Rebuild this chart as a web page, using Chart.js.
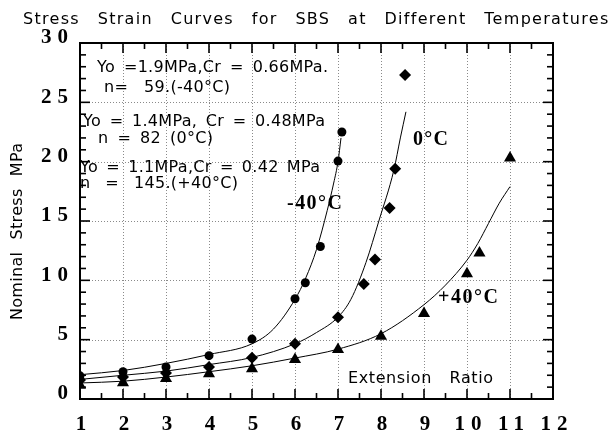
<!DOCTYPE html>
<html><head><meta charset="utf-8">
<script src="https://cdn.jsdelivr.net/npm/chart.js@4/dist/chart.umd.min.js"></script>
<style>html,body{margin:0;padding:0;background:#fff}#wrap{width:610px;height:436px;position:relative}</style>
</head><body><div id="wrap"><canvas id="c" width="610" height="436"></canvas></div>
<script>
// ---- texts ----
const titleText = 'Stress Strain Curves for SBS at Different Temperatures';
const xAxisTitle = 'Extension Ratio';
const yAxisTitle = 'Nominal Stress MPa';
const xTickValues = [1,2,3,4,5,6,7,8,9,10,11,12];
const yTickValues = [0,5,10,15,20,25,30];
const noteLines = [
  'Yo =1.9MPa,Cr = 0.66MPa.',
  'n= 59.(-40°C)',
  'Yo = 1.4MPa, Cr = 0.48MPa',
  'n = 82 (0°C)',
  'Yo = 1.1MPa,Cr = 0.42 MPa',
  'n = 145.(+40°C)'
];
const curveLabels = ['-40°C', '0°C', '+40°C'];

// ---- measured points ----
const m40X = [1, 2, 3, 4, 5, 6, 6.24, 6.59, 7.0, 7.09];
const m40Y = [1.95, 2.3, 2.7, 3.65, 5.05, 8.45, 9.8, 12.85, 20.05, 22.5];
const z0X  = [1, 2, 3, 4, 5, 6, 7, 7.6, 7.86, 8.2, 8.33, 8.56];
const z0Y  = [1.6, 1.85, 2.2, 2.7, 3.47, 4.65, 6.88, 9.7, 11.75, 16.1, 19.4, 27.3];
const p40X = [1, 2, 3, 4, 5, 6, 7, 8, 9, 10, 10.29, 11];
const p40Y = [1.15, 1.37, 1.73, 2.13, 2.55, 3.33, 4.17, 5.29, 7.2, 10.55, 12.3, 20.3];

// ---- fitted curves ----
const fitM40X = [1, 2, 3, 4, 5, 5.5, 6, 6.25, 6.5, 6.75, 6.9, 7.0, 7.07];
const fitM40Y = [2.05, 2.4, 3.0, 3.75, 4.65, 5.9, 8.4, 10.2, 12.6, 15.9, 18.2, 20.0, 22.0];
const fitZ0X  = [1, 2, 3, 4, 5, 6, 6.5, 7, 7.3, 7.65, 7.95, 8.3, 8.45, 8.58];
const fitZ0Y  = [1.65, 2.0, 2.35, 2.9, 3.5, 4.65, 5.6, 6.9, 8.4, 11.5, 15.0, 19.3, 22.0, 24.2];
const fitP40X = [1, 2, 3, 4, 5, 6, 7, 8, 9, 9.5, 10, 10.25, 10.5, 10.75, 11];
const fitP40Y = [1.35, 1.5, 1.85, 2.3, 2.8, 3.45, 4.2, 5.5, 7.95, 9.6, 11.7, 13.1, 14.8, 16.5, 17.9];

const pts = (xs, ys) => xs.map((x, i) => ({x, y: ys[i]}));

// ---- layout of free texts (pixels) ----
const SANS = '"DejaVu Sans", Verdana, sans-serif';
const SERIF = '"Liberation Serif", "Times New Roman", serif';
const notePos = [
  {x0: 97, x1: 328, y: 68},
  {x0: 104, x1: 230, y: 88},
  {x0: 83, x1: 325, y: 122},
  {x0: 98, x1: 213, y: 139},
  {x0: 80, x1: 320, y: 168},
  {x0: 80, x1: 238, y: 184}
];
const curveLabelPos = [
  {x0: 287, x1: 342, y: 204},
  {x0: 413, x1: 448, y: 140},
  {x0: 438, x1: 498, y: 298}
];

// draws text from x0 to x1: fixed letter spacing ls, remaining width goes to word gaps (mode 'word')
// or to letter spacing (mode 'letter')
function fitText(ctx, text, x0, x1, y, font, mode, ls) {
  ctx.save();
  ctx.font = font;
  ctx.fillStyle = '#000';
  ctx.textBaseline = 'middle';
  ctx.textAlign = 'left';
  ctx.wordSpacing = '0px';
  ctx.letterSpacing = '0px';
  const n = text.length - 1;
  const w0 = ctx.measureText(text).width;
  const target = x1 - x0;
  if (mode === 'word') {
    const lsp = ls || 0;
    const spaces = (text.match(/ /g) || []).length;
    ctx.letterSpacing = lsp + 'px';
    const rest = target - w0 - lsp * n;
    if (spaces > 0) ctx.wordSpacing = Math.max(0, rest / spaces) + 'px';
  } else {
    if (n > 0) ctx.letterSpacing = Math.max(0, (target - w0) / n) + 'px';
  }
  ctx.fillText(text, x0, y);
  ctx.restore();
}

const frameAndText = {
  id: 'frameAndText',
  beforeDraw(chart) {
    chart.ctx.letterSpacing = '6px';
  },
  beforeDatasetsDraw(chart) {
    const ctx = chart.ctx;
    ctx.letterSpacing = '0px';
    const xs = chart.scales.x, ys = chart.scales.y, a = chart.chartArea;
    ctx.save();
    ctx.strokeStyle = '#8a8a8a';
    ctx.lineWidth = 1;
    ctx.setLineDash([1, 2]);
    for (const v of xTickValues) {
      const px = Math.round(xs.getPixelForValue(v)) + 0.5;
      ctx.beginPath(); ctx.moveTo(px, a.top); ctx.lineTo(px, a.bottom); ctx.stroke();
    }
    for (const v of yTickValues) {
      const py = Math.round(ys.getPixelForValue(v)) + 0.5;
      ctx.beginPath(); ctx.moveTo(a.left, py); ctx.lineTo(a.right, py); ctx.stroke();
    }
    ctx.restore();
  },
  afterDraw(chart) {
    const ctx = chart.ctx;
    ctx.letterSpacing = '0px';
    const xs = chart.scales.x, ys = chart.scales.y, a = chart.chartArea;
    ctx.save();
    ctx.strokeStyle = '#000';
    ctx.lineWidth = 1.6;
    for (let v = xs.min; v <= xs.max + 1e-9; v += 0.5) {
      const px = xs.getPixelForValue(v);
      const len = Math.abs(v - Math.round(v)) < 1e-6 ? 10 : 6;
      ctx.beginPath(); ctx.moveTo(px, a.bottom); ctx.lineTo(px, a.bottom - len); ctx.stroke();
      ctx.beginPath(); ctx.moveTo(px, a.top); ctx.lineTo(px, a.top + len); ctx.stroke();
    }
    for (let v = ys.min; v <= ys.max + 1e-9; v += 1) {
      const py = ys.getPixelForValue(v);
      const len = v % 5 === 0 ? 10 : 6;
      ctx.beginPath(); ctx.moveTo(a.left, py); ctx.lineTo(a.left + len, py); ctx.stroke();
      ctx.beginPath(); ctx.moveTo(a.right, py); ctx.lineTo(a.right - len, py); ctx.stroke();
    }
    ctx.lineWidth = 2;
    ctx.strokeRect(a.left, a.top, a.right - a.left, a.bottom - a.top);
    ctx.restore();

    fitText(ctx, titleText, 23, 608, 20, '16px ' + SANS, 'word', 1.3);
    fitText(ctx, xAxisTitle, 348, 493, 379, '16px ' + SANS, 'word', 0.6);
    ctx.save();
    ctx.translate(18, 320);
    ctx.rotate(-Math.PI / 2);
    fitText(ctx, yAxisTitle, 0, 177, 0, '16px ' + SANS, 'word', 0.3);
    ctx.restore();
    noteLines.forEach((t, i) => {
      const p = notePos[i];
      fitText(ctx, t, p.x0, p.x1, p.y, '16px ' + SANS, 'word', 0.3);
    });
    curveLabels.forEach((t, i) => {
      const p = curveLabelPos[i];
      fitText(ctx, t, p.x0, p.x1, p.y, 'bold 20px ' + SERIF, 'letter');
    });
  }
};

const lineDs = (xs, ys) => ({
  type: 'scatter', data: pts(xs, ys), showLine: true, borderColor: '#000', borderWidth: 1,
  pointRadius: 0, cubicInterpolationMode: 'monotone', fill: false, order: 2
});
const markDs = (xs, ys, style, r) => ({
  type: 'scatter', data: pts(xs, ys), showLine: false, pointStyle: style, pointRadius: r,
  backgroundColor: '#000', borderColor: '#000', borderWidth: 0, order: 1
});

new Chart(document.getElementById('c'), {
  type: 'scatter',
  data: {
    datasets: [
      lineDs(fitM40X, fitM40Y),
      lineDs(fitZ0X, fitZ0Y),
      lineDs(fitP40X, fitP40Y),
      markDs(m40X, m40Y, 'circle', 4.5),
      markDs(z0X, z0Y, 'rectRot', 6),
      markDs(p40X, p40Y, 'triangle', 7)
    ]
  },
  options: {
    responsive: false,
    animation: false,
    devicePixelRatio: 1,
    layout: {padding: {top: 43, right: 57, left: 0, bottom: 0}},
    plugins: {legend: {display: false}, tooltip: {enabled: false}, title: {display: false}},
    scales: {
      x: {
        type: 'linear', min: 1, max: 12,
        afterFit(s) { s.height = 37; },
        afterBuildTicks(s) { s.ticks = xTickValues.map(v => ({value: v})); },
        grid: {display: false, drawTicks: false},
        border: {display: false},
        ticks: {color: '#000', font: {family: SERIF, size: 21, weight: 'bold'}, padding: 13, labelOffset: 4, maxRotation: 0, autoSkip: false}
      },
      y: {
        type: 'linear', min: 0, max: 30,
        afterFit(s) { s.width = 80; },
        afterBuildTicks(s) { s.ticks = yTickValues.map(v => ({value: v})); },
        grid: {display: false, drawTicks: false},
        border: {display: false},
        ticks: {color: '#000', font: {family: SERIF, size: 21, weight: 'bold'}, padding: 6, labelOffset: -5, autoSkip: false}
      }
    }
  },
  plugins: [frameAndText]
});
</script>
</body></html>
